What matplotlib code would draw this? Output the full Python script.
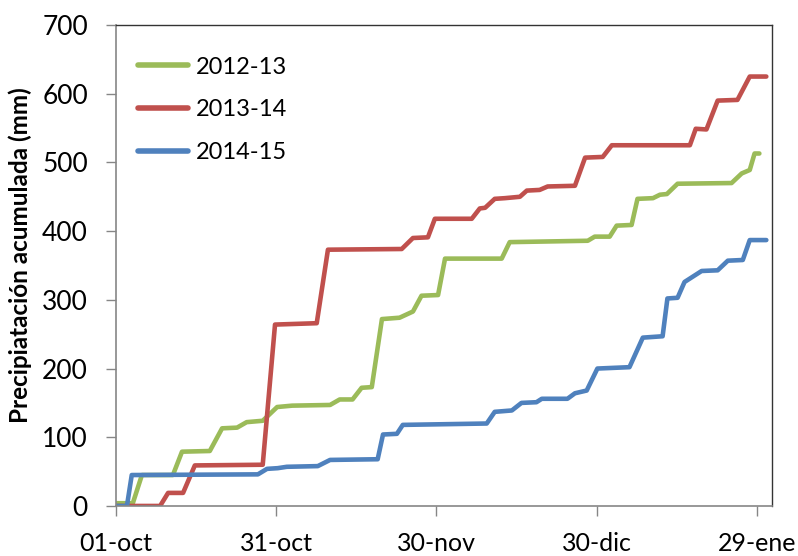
import matplotlib
matplotlib.use("Agg")
import matplotlib.pyplot as plt

# Series readings: day since 01-oct and cumulative precipitation (mm)
days_1213 = [0, 3.2, 4.9, 10.7, 12.4, 17.6, 19.9, 22.7, 24.5, 27.5, 30.2, 33.0, 40.1, 41.9,
             44.3, 46.0, 47.9, 49.8, 53.1, 55.6, 57.2, 60.3, 61.6, 72.2, 73.7, 88.3, 89.6,
             92.4, 93.7, 96.5, 97.6, 100.5, 101.8, 103.1, 105.1, 115.2, 117.1, 118.6, 119.5, 120.4]
vals_1213 = [4, 4, 45, 45, 79, 80, 113, 114, 122, 124, 144, 146, 147, 155,
             155, 172, 173, 272, 274, 283, 306, 307, 360, 360, 384, 386, 392,
             392, 408, 409, 447, 448, 453, 454, 469, 470, 484, 489, 513, 513]

days_1314 = [0, 8.3, 9.8, 12.6, 14.8, 27.5, 29.8, 37.6, 39.7, 53.5, 55.6, 58.4, 59.7,
             66.6, 68.1, 69.1, 70.9, 72.8, 75.6, 76.9, 79.3, 80.8, 85.9, 87.8, 91.1,
             92.8, 107.4, 108.5, 110.5, 112.6, 116.3, 118.6, 121.7]
vals_1314 = [0, 0, 19, 19, 59, 60, 264, 266, 373, 374, 390, 391, 418,
             418, 433, 434, 447, 448, 450, 459, 460, 465, 466, 507, 508,
             525, 525, 549, 548, 590, 591, 625, 625]

days_1415 = [0, 2.1, 3.0, 26.6, 28.3, 30.3, 32.0, 37.8, 40.1, 49.0, 50.0, 52.6, 53.7,
             69.4, 70.9, 74.1, 75.9, 78.7, 79.7, 84.5, 85.9, 88.1, 90.1, 96.1, 98.6,
             102.3, 103.2, 105.1, 106.4, 109.6, 112.6, 114.5, 117.3, 118.6, 121.7]
vals_1415 = [0, 0, 45, 46, 54, 55, 57, 58, 67, 68, 104, 105, 118,
             120, 137, 139, 150, 151, 156, 156, 164, 168, 200, 202, 245,
             247, 302, 303, 326, 342, 343, 357, 358, 387, 387]

series_labels = ["2012-13", "2013-14", "2014-15"]
tick_days = [0, 30, 60, 90, 120]
tick_labels = ["01-oct", "31-oct", "30-nov", "30-dic", "29-ene"]
y_ticks = [0, 100, 200, 300, 400, 500, 600, 700]

plt.rcParams['font.family'] = ['Lato', 'DejaVu Sans']

fig = plt.figure(figsize=(7.98, 5.56), dpi=100)
ax = fig.add_axes([0.145, 0.090, 0.822, 0.865])

colors = ["#9BBB59", "#C0504D", "#4F81BD"]
for d, v, c, lab in zip([days_1213, days_1314, days_1415],
                        [vals_1213, vals_1314, vals_1415], colors, series_labels):
    ax.plot(d, v, color=c, lw=3.3, label=lab, solid_joinstyle='round',
            solid_capstyle='round')

ax.set_xlim(0, 122.7)
ax.set_ylim(0, 700)
ax.set_xticks(tick_days)
ax.set_xticklabels(tick_labels)
ax.set_yticks(y_ticks)
ax.tick_params(axis='both', colors='#868686', length=7, width=1,
               direction='out', labelcolor='black')
ax.tick_params(axis='x', labelsize=18, pad=12)
ax.tick_params(axis='y', labelsize=19, pad=13)

for s in ['left', 'bottom']:
    ax.spines[s].set_color('#868686')
    ax.spines[s].set_linewidth(1.2)
for s in ['top', 'right']:
    ax.spines[s].set_color('#333333')
    ax.spines[s].set_linewidth(1.0)

ax.set_ylabel("Precipiatación acumulada (mm)", fontsize=17.5, fontweight='bold')
ax.yaxis.set_label_coords(-0.128, 0.522)

leg = ax.legend(loc='upper left', bbox_to_anchor=(0.034, 0.934), frameon=False,
                fontsize=17, handlelength=2.1, labelspacing=0.92, handletextpad=0.35,
                borderpad=0, borderaxespad=0)
for line in leg.get_lines():
    line.set_linewidth(4)

fig.savefig("out.png", dpi=100)
